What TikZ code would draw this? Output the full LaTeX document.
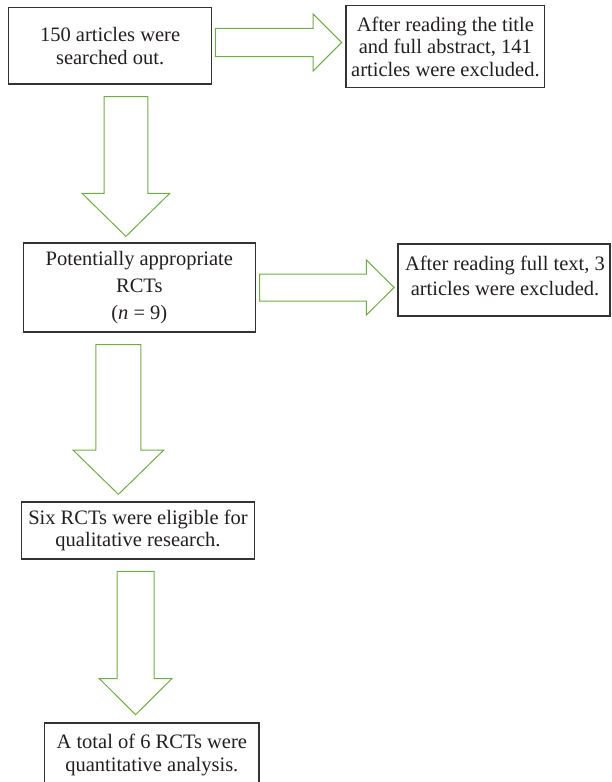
\documentclass[tikz,border=0pt]{standalone}
\usepackage{fontspec}
\setmainfont{Liberation Serif}
\usetikzlibrary{calc}
\definecolor{agreen}{HTML}{70AD47}
\definecolor{boxline}{HTML}{333333}
\definecolor{txtc}{HTML}{231F20}
\newcommand{\downblock}[5]{%
  \draw[garrow] let \p1=(#1), \p2=(#2) in
    (\x1-#3pt,\y1) -- (\x1+#3pt,\y1) -- (\x1+#3pt,\y2+#5pt) -- (\x1+#4pt,\y2+#5pt)
    -- (\x1,\y2) -- (\x1-#4pt,\y2+#5pt) -- (\x1-#3pt,\y2+#5pt) -- cycle;}
\newcommand{\rightblock}[5]{%
  \draw[garrow] let \p1=(#1), \p2=(#2) in
    (\x1,\y1-#3pt) -- (\x2-#5pt,\y1-#3pt) -- (\x2-#5pt,\y1-#4pt) -- (\x2,\y1)
    -- (\x2-#5pt,\y1+#4pt) -- (\x2-#5pt,\y1+#3pt) -- (\x1,\y1+#3pt) -- cycle;}
\begin{document}
\begin{tikzpicture}[x=1pt,y=-1pt,
  box/.style={draw=boxline, line width=1.3pt, rectangle, inner sep=0pt, align=center,
    text=txtc, font=\fontsize{20.5}{22.7}\selectfont},
  txt/.style={inner sep=0pt, align=center, text=txtc, font=\fontsize{20.5}{25}\selectfont},
  garrow/.style={draw=agreen, line width=1pt, fill=white, line join=miter}]
\useasboundingbox (0,0) rectangle (611,782);
\clip (0,0) rectangle (611,782);
\node[box, minimum width=203pt, minimum height=76.7pt] (b1) at (110.1,45.7)
  {150 articles were\\searched out.};
\node[box, minimum width=198.8pt, minimum height=82pt] (b2) at (445.4,46.7)
  {After reading the title\\and full abstract, 141\\articles were excluded.};
\node[box, minimum width=232pt, minimum height=89pt,
  font=\fontsize{20.5}{26.7}\selectfont] (b3) at (139.3,287.5)
  {Potentially appropriate\\RCTs\\(\textit{n} = 9)};
\node[box, minimum width=212pt, minimum height=72pt] (b4) at (504,280) {};
\node[txt] (t4) at (505,276) {After reading full text, 3\\articles were excluded.};
\node[box, minimum width=233pt, minimum height=57pt] (b5) at (138,530.5)
  {Six RCTs were eligible for\\qualitative research.};
\node[box, minimum width=214.3pt, minimum height=64pt] (b6) at (151.8,755)
  {A total of 6 RCTs were\\quantitative analysis.};
% connectors
\coordinate (r1s) at ($(b1.east)+(3.1,-3.2)$);
\coordinate (r1t) at ($(b2.west)+(-3.8,-4.2)$);
\rightblock{r1s}{r1t}{14.2}{28.5}{28.5}
\coordinate (d1s) at ($(b1.south)+(15.8,12)$);
\coordinate (d1t) at ($(b3.north)+(-13.4,-6)$);
\downblock{d1s}{d1t}{21.85}{43.85}{43}
\coordinate (r2s) at ($(b3.east)+(3.7,0)$);
\coordinate (r2t) at ($(b4.west)+(-3.2,7.5)$);
\rightblock{r2s}{r2t}{13.5}{27.5}{27.8}
\coordinate (d2s) at ($(b3.south)+(-20.9,12)$);
\coordinate (d2t) at ($(b5.north)+(-19.6,-7)$);
\downblock{d2s}{d2t}{22.55}{45.4}{44.3}
\coordinate (d3s) at ($(b5.south)+(-2.4,11.7)$);
\coordinate (d3t) at ($(b6.north)+(-16.2,-7.7)$);
\downblock{d3s}{d3t}{18.5}{36.25}{36}
\end{tikzpicture}
\end{document}
